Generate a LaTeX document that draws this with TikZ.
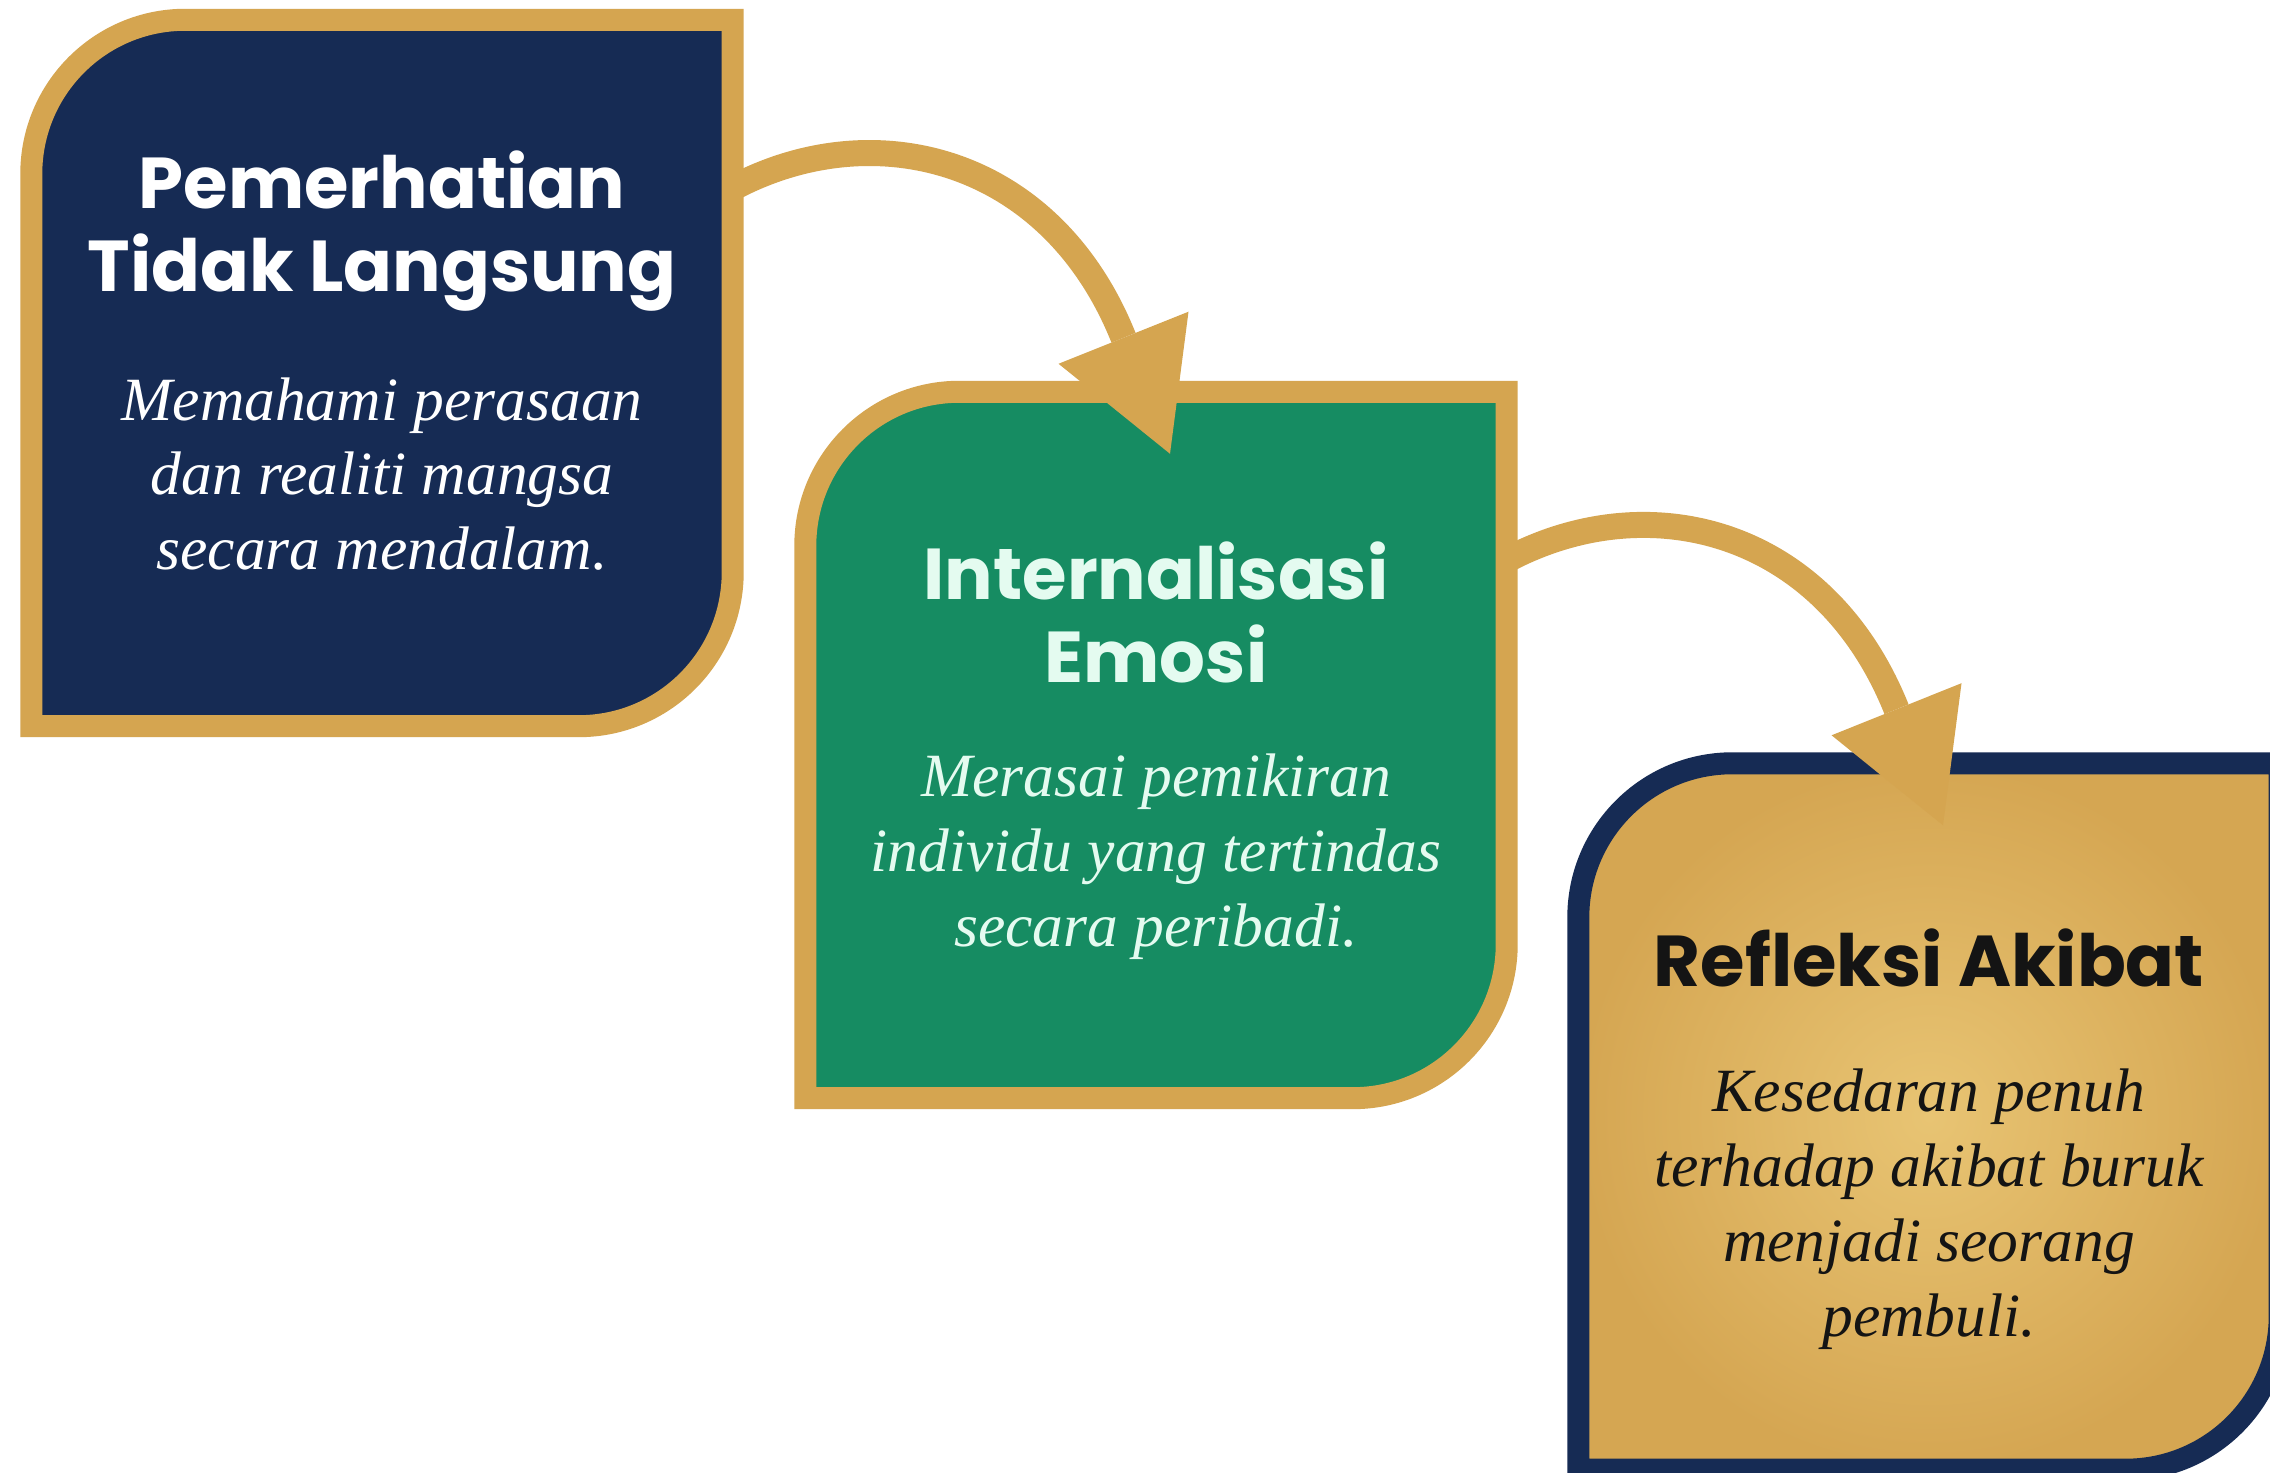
\documentclass[tikz,border=0pt]{standalone}
\usepackage{fontspec}
\usepackage{tikz}
\usetikzlibrary{arrows.meta}

\newfontfamily\headfont{Poppins}
\newfontfamily\bodyfont{Liberation Serif}

\definecolor{navy}{HTML}{162B54}
\definecolor{leafgreen}{HTML}{168C62}
\definecolor{gold}{HTML}{D5A550}
\definecolor{goldlight}{HTML}{E8C473}
\definecolor{golddark}{HTML}{D5A652}
\definecolor{mint}{HTML}{E4FBF0}
\definecolor{ink}{HTML}{141414}

% leaf shaped box: round top left and bottom right corners
\newcommand{\leafrad}{1.54cm}
\newcommand{\leafpath}[1]{([yshift=-\leafrad]#1.north west) arc[start angle=180,end angle=90,radius=\leafrad] -- (#1.north east) -- ([yshift=\leafrad]#1.south east) arc[start angle=0,end angle=-90,radius=\leafrad] -- (#1.south west) -- cycle}

\tikzset{
  box/.style={minimum width=7cm, minimum height=7.05cm, inner sep=0pt},
  rim/.style={line width=0.22cm, line join=miter},
  head/.style={font=\headfont\bfseries\fontsize{20.5}{23.6}\selectfont, align=center, inner sep=0pt},
  body/.style={font=\bodyfont\itshape\fontsize{17.5}{21.3}\selectfont, align=center, inner sep=0pt},
  flow/.style={draw=gold, line width=0.26cm, -{Triangle[length=1.25cm, width=1.4cm, line width=0pt]}}
}

\begin{document}
\begin{tikzpicture}
\useasboundingbox (0,0) rectangle (22.70,14.73);
\clip (0,0) rectangle (22.70,14.73);
\fill[white] (0,0) rectangle (22.70,14.73);

\node[box] (b1) at (3.82,11.0) {};
\node[box] (b2) at (11.56,7.28) {};
\node[box] (b3) at (19.29,3.565) {};

\filldraw[rim, draw=gold, fill=navy] \leafpath{b1};
\filldraw[rim, draw=gold, fill=leafgreen] \leafpath{b2};
\shade[inner color=goldlight, outer color=golddark] \leafpath{b3};
\draw[rim, draw=navy] \leafpath{b3};

% arrows between the steps
\draw[flow] ([yshift=1.85cm]b1.east) .. controls +(1.41,0.75) and +(-1.19,2.97) .. ([xshift=0.14cm,yshift=-0.62cm]b2.north);
\draw[flow] ([yshift=1.85cm]b2.east) .. controls +(1.41,0.75) and +(-1.19,2.97) .. ([xshift=0.14cm,yshift=-0.62cm]b3.north);

\node[head, white] (t1) at ([yshift=1.42cm]b1.center) {Pemerhatian\\Tidak Langsung};
\node[body, white] (d1) at ([yshift=-1.01cm]b1.center) {Memahami perasaan\\dan realiti mangsa\\secara mendalam.};

\node[head, mint] (t2) at ([yshift=1.33cm]b2.center) {Internalisasi\\Emosi};
\node[body, mint] (d2) at ([yshift=-1.12cm]b2.center) {Merasai pemikiran\\individu yang tertindas\\secara peribadi.};

\node[head, ink] (t3) at ([yshift=1.59cm]b3.center) {Refleksi Akibat};
\node[body, ink] (d3) at ([yshift=-0.93cm]b3.center) {Kesedaran penuh\\terhadap akibat buruk\\menjadi seorang\\pembuli.};

\end{tikzpicture}
\end{document}
